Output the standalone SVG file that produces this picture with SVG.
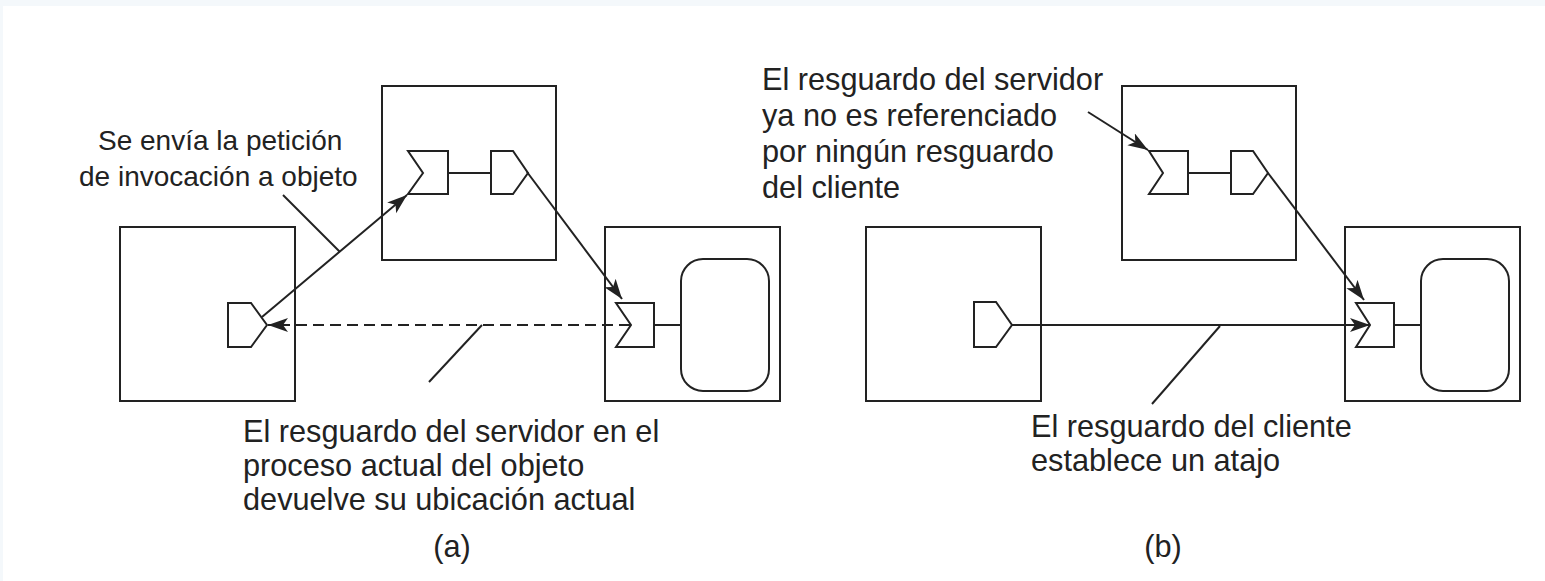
<svg xmlns="http://www.w3.org/2000/svg" width="1545" height="581" viewBox="0 0 1545 581">
<defs>
<style>
.box{fill:none;stroke:#222;stroke-width:2}
.stub{fill:#fff;stroke:#222;stroke-width:2;stroke-linejoin:miter}
.ln{fill:none;stroke:#222;stroke-width:2}
.arr{fill:none;stroke:#222;stroke-width:2;marker-end:url(#ah)}
.dash{stroke-dasharray:11 6}
text{font-family:"Liberation Sans",Arial,sans-serif;font-size:30.7px;fill:#222}
.sm{font-size:28px}
.c{text-anchor:middle}
</style>
<marker id="ah" markerUnits="userSpaceOnUse" markerWidth="22" markerHeight="16" refX="20" refY="7" orient="auto">
<path d="M0,0 L20,7 L0,14 L5,7 z" fill="#222"/>
</marker>
</defs>
<rect x="0" y="0" width="1545" height="581" fill="#f4f8fb"/>
<rect x="3" y="6" width="1542" height="575" fill="#fff"/>

<!-- (a) -->
<g id="a-client-process">
<rect class="box" x="120" y="227" width="175" height="174"/>
<path class="stub" d="M228,303 L251,303 L267,325 L251,347 L228,347 Z"/>
</g>
<g id="a-old-process">
<rect class="box" x="382" y="86" width="174" height="174"/>
<path class="stub" d="M408,151 L448,151 L448,194 L408,194 L423,173 Z"/>
<line class="ln" x1="448" y1="173" x2="491" y2="173"/>
<path class="stub" d="M491,151 L513,151 L528,173 L513,194 L491,194 Z"/>
</g>
<g id="a-object-process">
<rect class="box" x="605" y="227" width="175" height="174"/>
<path class="stub" d="M616,303 L654,303 L654,347 L616,347 L631,325 Z"/>
<line class="ln" x1="654" y1="325" x2="681" y2="325"/>
<rect class="box" x="681" y="259" width="88" height="132" rx="22" ry="22"/>
</g>

<!-- (b) -->
<g id="b-client-process">
<rect class="box" x="866" y="227" width="175" height="174"/>
<path class="stub" d="M974,302 L996,302 L1012,325 L996,347 L974,347 Z"/>
</g>
<g id="b-old-process">
<rect class="box" x="1122" y="86" width="174" height="174"/>
<path class="stub" d="M1149,151 L1188,151 L1188,194 L1149,194 L1163,173 Z"/>
<line class="ln" x1="1188" y1="173" x2="1231" y2="173"/>
<path class="stub" d="M1231,151 L1253,151 L1268,173 L1253,194 L1231,194 Z"/>
</g>
<g id="b-object-process">
<rect class="box" x="1345" y="227" width="175" height="174"/>
<path class="stub" d="M1356,303 L1394,303 L1394,347 L1356,347 L1370,325 Z"/>
<line class="ln" x1="1394" y1="325" x2="1421" y2="325"/>
<rect class="box" x="1421" y="259" width="88" height="132" rx="22" ry="22"/>
</g>

<g id="connectors">
<line class="arr" x1="262" y1="317" x2="407" y2="195"/>
<line class="arr" x1="527" y1="172" x2="622" y2="299"/>
<line class="arr dash" x1="630" y1="325" x2="268" y2="325"/>
<line class="ln" x1="283" y1="195" x2="340" y2="252"/>
<line class="ln" x1="429" y1="382" x2="482" y2="325"/>
<line class="arr" x1="1088" y1="112" x2="1148" y2="150"/>
<line class="arr" x1="1268" y1="173" x2="1364" y2="300"/>
<line class="arr" x1="1012" y1="325" x2="1370" y2="325"/>
<line class="ln" x1="1152" y1="404" x2="1220" y2="326"/>
</g>

<g id="labels">
<text class="sm" x="98" y="150">Se envía la petición</text>
<text class="sm" x="79" y="186">de invocación a objeto</text>
<text x="243" y="442">El resguardo del servidor en el</text>
<text x="243" y="476">proceso actual del objeto</text>
<text x="243" y="510">devuelve su ubicación actual</text>
<text class="c" x="452" y="557">(a)</text>
<text x="762" y="90">El resguardo del servidor</text>
<text x="762" y="126">ya no es referenciado</text>
<text x="762" y="162">por ningún resguardo</text>
<text x="762" y="198">del cliente</text>
<text x="1031" y="437">El resguardo del cliente</text>
<text x="1031" y="471">establece un atajo</text>
<text class="c" x="1163" y="557">(b)</text>
</g>
</svg>
